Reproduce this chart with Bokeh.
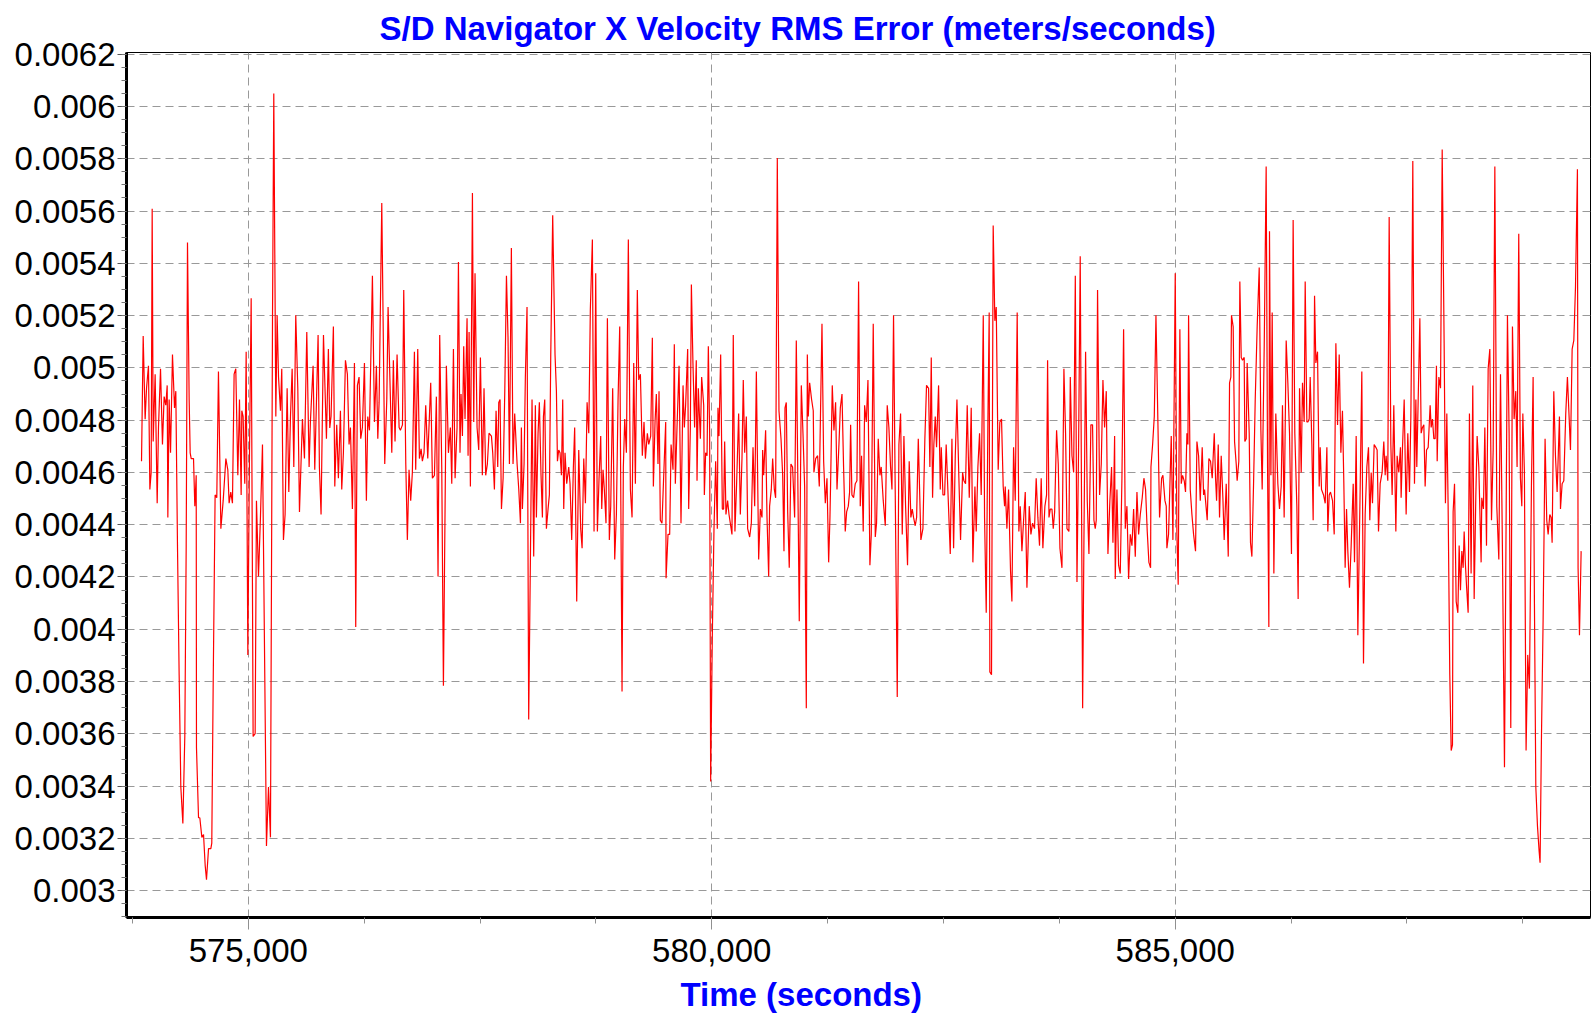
from bokeh.plotting import figure
from bokeh.models import Range1d, FixedTicker, Title
from bokeh.embed import file_html
from bokeh.resources import INLINE

TIME = [
573848,573866,573887,573902,573923,573938,573952,573963,573974,573995,574017,574031,574053,574074,574092,574110,
574125,574132,574146,574161,574182,574204,574218,574236,574254,574272,574294,574315,574330,574344,574362,574373,
574384,574409,574423,574438,574441,574463,574477,574499,574517,574535,574549,574571,574596,574606,574621,574642,
574660,574678,574704,574729,574758,574779,574793,574811,574829,574847,574865,574887,574905,574923,574930,574944,
574962,574977,574995,575013,575031,575052,575074,575088,575110,575131,575153,575196,575218,575239,575261,575275,
575297,575311,575326,575347,575361,575379,575397,575419,575437,575455,575473,575491,575512,575534,575552,575584,
575606,575631,
575656,575670,575699,575717,575753,575767,575785,575811,575843,575864,575879,575893,575918,575933,575954,575972,
575994,576008,576026,576048,576069,576087,576102,576123,576145,576159,576177,576195,576213,576231,576253,576274,
576289,576307,576339,576361,576382,576397,576411,576440,576472,576494,576508,576548,576565,576583,576605,576627,
576641,576663,576677,576699,576716,576734,576752,576770,576792,576806,576828,576846,576864,576878,576896,576914,
576936,576968,576986,577008,577029,577047,577065,577087,577105,577137,577159,577180,577195,577213,577231,577252,
577267,577284,577295,577310,577324,577338,577360,577371,577382,577396,577418,577432,577446,577468,577486,577504,
577525,577543,577561,577579,577597,
577623,577637,577655,577673,577691,577702,577716,577731,577749,577767,577785,577802,577817,577838,577856,577874,
577900,577918,577936,577946,577957,577975,577989,578007,578025,578043,578061,578079,578097,578108,578126,578140,
578158,578173,578184,578198,578216,578234,578248,578263,578284,578309,578324,578335,578349,578363,578378,578392,
578403,578417,578435,578457,578471,578489,578507,578521,578543,578565,578586,578601,578619,578637,578655,578673,
578690,578712,578730,578748,578766,578784,578802,578813,578827,578841,578859,578874,578895,578910,578931,578953,
578971,578989,579007,579032,579046,579061,579079,579100,579122,579140,579158,579176,579197,579212,579230,579251,
579269,579284,579305,579320,579341,579359,579370,579388,579402,579420,579431,579445,579463,579485,579503,579507,
579528,579546,579561,579582,579596,
579607,579625,579647,579668,579690,579704,579718,579740,579751,579769,579780,579797,579815,579833,579841,579855,
579877,579891,579913,579920,579934,579949,579963,579977,579988,580006,580024,580042,580060,580067,580078,580096,
580114,580128,580139,580153,580171,580186,580200,580218,580232,580250,580268,580290,580308,580326,580340,580355,
580373,580387,580409,580427,580445,580463,580481,580506,580524,580542,580549,580560,580581,580596,580614,580624,
580642,580657,580675,580689,580707,580725,580747,580765,580779,580790,580804,580819,580836,580854,580872,580894,
580912,580926,580944,580966,580984,581002,581020,581031,581041,581056,581077,581095,581102,581121,581142,581160,
581189,581207,581225,581243,581261,581275,581282,581300,581318,581336,581351,581372,581387,581405,581422,581440,
581455,581473,581487,581498,581512,581530,581548,581566,581584,
581602,581616,581634,581649,581667,581685,581706,581721,581742,581764,581778,581796,581814,581828,581850,581872,
581893,581911,581929,581944,581961,581979,582001,582019,582037,582055,582073,582091,582112,582130,582148,582163,
582177,582195,582210,582228,582242,582256,582278,582299,582317,582339,582353,582368,582382,582396,582411,582425,
582447,582465,582476,582494,582512,582529,582547,582573,582591,582609,582627,582645,582666,582684,582706,582720,
582738,582756,582778,582799,582817,582839,582853,582871,582889,582907,582929,582943,582961,582979,582993,583000,
583018,583036,583054,583069,583090,583108,583126,583144,583159,583166,583184,583202,583223,583238,583256,583274,
583295,583313,583328,583346,583364,583382,583400,583425,583443,583461,583482,583500,583518,583536,583554,583572,
583594,583612,583623,583638,583652,583670,583684,583699,583720,583738,583756,583778,583799,583817,583832,583853,
583868,583886,583904,583922,583940,583957,583975,584001,584015,584033,584051,584069,584090,584108,584123,584137,
584148,584162,584184,584202,584220,584238,584256,584274,584295,584313,584328,584346,584353,584371,584389,584407,
584425,584443,584461,584479,584497,584515,584533,584551,584569,584587,584605,584623,584644,584662,584680,584698,
584716,584734,584738,584756,584774,584792,584813,584831,584853,584867,584889,584903,584910,584928,584957,584975,
585000,585018,585032,585050,585065,585079,585097,585111,585126,585137,585144,585162,585180,585198,585219,585234,
585252,585270,585291,585306,585316,585327,585345,585363,585381,585399,585421,585435,585446,585464,585478,585496,
585514,585528,585550,585572,
585586,585600,585607,585625,585640,585658,585668,585686,585697,585712,585726,585744,585751,585766,585776,585798,
585812,585827,585845,585863,585884,585906,585924,585938,585960,585981,585996,586010,586017,586032,586046,586064,
586085,586107,586125,586143,586157,586175,586197,586215,586233,586254,586272,586290,586312,586326,586341,586359,
586373,586391,586402,586420,586431,586445,586456,586474,586488,586503,586517,586535,586553,586564,586578,586600,
586618,586636,586646,586661,586675,586697,586715,586733,586751,586769,586787,586804,586819,586833,586848,586862,
586880,586898,586920,586934,586952,586970,586995,587013,587031,587049,587067,587085,587099,587114,587128,587146,
587164,587178,587193,587211,587232,587250,587265,587275,587293,587308,587326,587340,587358,587380,587394,587412,
587430,587437,587452,587470,587491,587509,587527,587542,587552,587563,587581,
587596,587606,587621,587639,587653,587667,587682,587696,587711,587729,587750,587761,587775,587790,587804,587818,
587826,587844,587862,587880,587901,587915,587930,587944,587962,587977,587991,587998,588013,588031,588049,588063,
588077,588092,588106,588117,588131,588142,588160,588174,588192,588210,588225,588243,588257,588275,588300,588307,
588325,588340,588358,588376,588394,588412,588430,588448,588469,588491,588509,588530,588552,588584,588602,588620,
588638,588656,588674,588688,588706,588724,588739,588750,588767,588785,588803,588821,588843,588861,588875,588890,
588908,588926,588936,588951,588969,588990,589008,589023,589041,589055,589066,589084,589102,589120,589145,589156,
589174,589192,589213,589231,589249,589264,589282,589300,589318,589339,589346,589361,589379,
]

RMS_ERROR = [
0.004643,0.005122,0.004804,0.004922,0.005008,0.004535,0.004600,0.005609,0.004718,0.004976,0.004482,0.004772,0.004997,0.004707,0.004890,0.004857,
0.004933,0.004428,0.004879,0.004675,0.005051,0.004847,0.004911,0.004320,0.003826,0.003397,0.003257,0.003590,0.004320,0.005480,0.004879,0.004675,
0.004653,0.004653,0.004471,0.004589,0.003547,0.003279,0.003279,0.003204,0.003215,0.003096,0.003042,0.003161,0.003161,0.003182,0.003783,0.004514,
0.004503,0.004986,0.004385,0.004492,0.004653,0.004610,0.004482,0.004525,0.004482,0.004976,0.004997,0.004589,0.004879,0.004514,0.004836,0.004814,
0.004557,0.005062,0.003902,0.004675,0.005266,0.003590,0.003601,0.004492,0.004202,0.004428,0.004707,0.003171,0.003397,0.003204,0.005180,0.006050,
0.004814,0.005201,0.004965,0.004836,0.004997,0.004342,0.004439,0.004922,0.004525,0.004814,0.004997,0.004621,0.005201,0.004922,0.004449,0.004804,
0.004653,0.005137,
0.004621,0.004793,0.005008,0.004610,0.005126,0.004621,0.004439,0.005126,0.004729,0.005072,0.004770,0.004815,0.005158,0.004546,0.004782,0.004578,
0.004836,0.004535,0.004675,0.005029,0.004976,0.004707,0.004772,0.004460,0.005019,0.004009,0.004933,0.004965,0.004729,0.004772,0.005019,0.004492,
0.004814,0.004761,0.005352,0.004793,0.005008,0.004729,0.004868,0.005631,0.004632,0.004879,0.005233,0.004675,0.005029,0.004718,0.005051,0.004772,
0.004761,0.004782,0.005298,0.004632,0.004342,0.004610,0.004492,0.004600,0.005062,0.004610,0.005072,0.004653,0.004690,0.004643,0.004675,0.004857,
0.004653,0.004943,0.004578,0.004589,0.004890,0.004202,0.005126,0.004621,0.003784,0.005008,0.004675,0.004772,0.004557,0.005072,0.004578,0.004772,
0.005405,0.004675,0.004900,0.004739,0.005083,0.004804,0.005190,0.004664,0.005137,0.004546,0.005669,0.004793,0.005362,0.004772,0.004686,0.005040,
0.004589,0.004922,0.004589,0.004632,0.004750,
0.004739,0.004675,0.004535,0.004836,0.004621,0.004868,0.004879,0.004460,0.004578,0.004911,0.005352,0.005115,0.004632,0.005459,0.004632,0.004825,
0.004632,0.004535,0.004406,0.004772,0.004460,0.004632,0.004965,0.005233,0.003655,0.004256,0.004879,0.004278,0.004857,0.004428,0.004750,0.004868,
0.004589,0.004428,0.004814,0.004879,0.004385,0.004460,0.004514,0.005051,0.005584,0.005051,0.004911,0.004643,0.004686,0.004675,0.004589,0.004879,
0.004460,0.004675,0.004557,0.004621,0.004557,0.004342,0.004621,0.004772,0.004106,0.004686,0.004385,0.004310,0.004653,0.004482,0.004868,0.004750,
0.005223,0.005491,0.004374,0.005362,0.004374,0.004578,0.004739,0.004460,0.004610,0.004535,0.004406,0.005190,0.004342,0.004471,0.004922,0.004267,
0.004439,0.004879,0.005158,0.003762,0.004621,0.004804,0.004675,0.005491,0.004535,0.004428,0.005019,0.004557,0.005298,0.004954,0.004976,0.004664,
0.004793,0.004653,0.004750,0.004707,0.004739,0.005115,0.004546,0.004793,0.004900,0.004632,0.004911,0.004417,0.004406,0.004621,0.004793,0.004195,
0.004363,0.004363,0.004707,0.004610,0.005090,
0.004557,0.004772,0.005008,0.004406,0.004933,0.004772,0.004857,0.005072,0.004460,0.004772,0.005319,0.005019,0.004772,0.005029,0.004568,0.004922,
0.004729,0.004965,0.004857,0.004514,0.004675,0.004664,0.005083,0.004750,0.003418,0.003977,0.004385,0.004643,0.004385,0.004847,0.004739,0.005051,
0.004460,0.004460,0.004718,0.004439,0.004492,0.004439,0.004406,0.004363,0.005126,0.004374,0.004557,0.004825,0.004439,0.004653,0.004954,0.004675,
0.004814,0.004385,0.004353,0.004406,0.004696,0.004471,0.004986,0.004267,0.004460,0.004428,0.004686,0.004589,0.004761,0.004428,0.004202,0.004471,
0.004535,0.004653,0.004535,0.004503,0.005803,0.004836,0.004729,0.004589,0.004299,0.004847,0.004868,0.004449,0.004235,0.004632,0.004621,0.004428,
0.005105,0.004653,0.004031,0.004933,0.004750,0.004546,0.003698,0.005051,0.004814,0.004943,0.004879,0.004836,0.004600,0.004653,0.004664,0.004546,
0.005169,0.004643,0.004482,0.004578,0.004256,0.004428,0.004557,0.004933,0.004761,0.004868,0.004535,0.004707,0.004847,0.004900,0.004621,0.004374,
0.004449,0.004471,0.004525,0.004782,0.004514,0.004503,0.004557,0.004568,0.005330,
0.004471,0.004664,0.004374,0.004857,0.004793,0.004954,0.004245,0.004363,0.005169,0.004353,0.004406,0.004729,0.004589,0.004621,0.004492,0.004396,
0.004857,0.004772,0.004621,0.004535,0.005201,0.004535,0.003741,0.004707,0.004825,0.004363,0.004739,0.004471,0.004245,0.004643,0.004428,0.004460,
0.004428,0.004396,0.004428,0.004729,0.004535,0.004342,0.004385,0.004729,0.004933,0.004922,0.004621,0.005040,0.004503,0.004707,0.004814,0.004696,
0.004933,0.004535,0.004696,0.004514,0.004514,0.004707,0.004535,0.004288,0.004729,0.004310,0.004664,0.004879,0.004578,0.004342,0.004600,0.004568,
0.004557,0.004857,0.004503,0.004847,0.004256,0.004546,0.004374,0.004621,0.004750,0.004514,0.005201,0.004428,0.004063,0.004793,0.005212,0.003837,
0.003826,0.005545,0.005180,0.005233,0.004610,0.004793,0.004804,0.004546,0.004471,0.004546,0.004385,0.004535,0.004224,0.004106,0.004696,0.004492,
0.005212,0.004374,0.004471,0.004299,0.004417,0.004525,0.004159,0.004471,0.004363,0.004406,0.004385,0.004578,0.004428,0.004320,0.004578,0.004310,
0.004471,0.004514,0.005029,0.004428,0.004460,0.004460,0.004385,0.004449,0.004761,0.004632,0.004310,0.004235,0.004997,0.004750,0.004385,0.004374,
0.004965,0.004664,0.004600,0.005352,0.004181,0.004686,0.005427,0.003698,0.004342,0.005062,0.004492,0.004288,0.004782,0.004782,0.004417,0.004385,
0.004417,0.005298,0.004514,0.004632,0.004954,0.004772,0.004911,0.004288,0.004492,0.004621,0.004331,0.004739,0.004192,0.004535,0.004245,0.004213,
0.004578,0.005148,0.004385,0.004471,0.004192,0.004363,0.004320,0.004460,0.004278,0.004525,0.004363,0.004439,0.004503,0.004578,0.004535,0.004374,
0.004256,0.004235,0.004621,0.004707,0.004814,0.005201,0.004793,0.004428,0.004578,0.004589,0.004492,0.004471,0.004310,0.004363,0.004739,0.004342,
0.005362,0.004363,0.004170,0.005148,0.004557,0.004589,0.004568,0.004525,0.004750,0.004707,0.005201,0.004535,0.004439,0.004363,0.004299,0.004718,
0.004664,0.004492,0.004696,0.004514,0.004535,0.004492,0.004417,0.004653,0.004643,0.004578,0.004750,0.004578,0.004492,0.004707,0.004428,0.004664,
0.004503,0.004342,0.004557,0.004278,
0.004943,0.004965,0.005201,0.005158,0.004718,0.004632,0.004568,0.004643,0.005330,0.005040,0.005029,0.005040,0.004718,0.004729,0.005019,0.004750,
0.004331,0.004278,0.004557,0.004879,0.005158,0.005384,0.004761,0.004535,0.005083,0.005770,0.004621,0.004009,0.005523,0.004589,0.005212,0.004213,
0.004825,0.004557,0.004460,0.004546,0.004857,0.004428,0.005105,0.004943,0.004750,0.004288,0.005566,0.004750,0.004471,0.004116,0.004922,0.004600,
0.004943,0.004793,0.005330,0.004793,0.004793,0.004804,0.004965,0.004707,0.004417,0.005276,0.005019,0.005062,0.004546,0.004696,0.004535,0.004514,
0.004482,0.004696,0.004374,0.004514,0.004525,0.004492,0.004363,0.005094,0.004782,0.005051,0.004675,0.004836,0.004557,0.004235,0.004460,0.004299,
0.004159,0.004320,0.004557,0.004256,0.004739,0.003977,0.004535,0.004986,0.003869,0.004439,0.004621,0.004696,0.004417,0.004600,0.004482,0.004707,
0.004696,0.004686,0.004374,0.004557,0.004600,0.004718,0.004589,0.004664,0.004568,0.005577,0.004707,0.004514,0.004857,0.004374,0.004664,0.004600,
0.004696,0.004503,0.004696,0.004879,0.004439,0.004750,0.004525,0.004814,0.005180,0.005791,0.004557,
0.004879,0.004621,0.004879,0.005190,0.004750,0.004772,0.004782,0.004546,0.004686,0.004696,0.004857,0.004772,0.004804,0.004729,0.004729,0.005008,
0.004643,0.004965,0.004922,0.005835,0.005094,0.004482,0.004825,0.004471,0.003826,0.003536,0.003558,0.004449,0.004557,0.004106,0.004063,0.004320,
0.004149,0.004299,0.004235,0.004374,0.004245,0.004170,0.004063,0.004825,0.004213,0.004933,0.004116,0.004514,0.004739,0.004621,0.004256,0.004503,
0.004460,0.004772,0.004320,0.004997,0.005072,0.004417,0.004686,0.005770,0.004471,0.004267,0.004976,0.004299,0.003472,0.005201,0.004750,0.003622,
0.005158,0.004804,0.004911,0.004621,0.005513,0.004578,0.004471,0.004825,0.004600,0.003536,0.003902,0.003773,0.004557,0.004965,0.004106,0.003397,
0.003247,0.003150,0.003107,0.003590,0.004041,0.004729,0.004417,0.004363,0.004439,0.004428,0.004331,0.004911,0.004664,0.004525,0.004814,0.004460,
0.004557,0.004568,0.004825,0.004965,0.004814,0.004686,0.005072,0.005105,0.005309,0.005760,0.004235,0.003977,0.004299,
]

X_TICKS = [575000, 580000, 585000]
X_TICK_LABELS = ["575,000", "580,000", "585,000"]
Y_TICKS = [0.003, 0.0032, 0.0034, 0.0036, 0.0038, 0.004, 0.0042, 0.0044, 0.0046, 0.0048,
           0.005, 0.0052, 0.0054, 0.0056, 0.0058, 0.006, 0.0062]
Y_TICK_LABELS = ["0.003", "0.0032", "0.0034", "0.0036", "0.0038", "0.004", "0.0042", "0.0044", "0.0046",
                 "0.0048", "0.005", "0.0052", "0.0054", "0.0056", "0.0058", "0.006", "0.0062"]
X_MINOR = [573750, 575000, 576250, 577500, 578750, 580000, 581250, 582500, 583750, 585000, 586250, 587500, 588750]
Y_MINOR = [0.0029 + 0.00005 * i for i in range(67)]

FONT = "Liberation Sans"

p = figure(width=1593, height=1023, output_backend="svg", toolbar_location=None,
           x_range=Range1d(573686, 589480), y_range=Range1d(0.0028974, 0.0062065),
           min_border_left=126, min_border_right=3, min_border_top=52, min_border_bottom=106,
           background_fill_color="white", border_fill_color="white")

p.title.text = "S/D Navigator X Velocity RMS Error (meters/seconds)"
p.title.align = "left"
p.title.vertical_align = "top"
p.title.offset = 253
p.title.text_font = FONT
p.title.text_font_size = "33px"
p.title.text_font_style = "bold"
p.title.text_color = "#0000ff"
p.title.standoff = 7

xlabel = Title(text="Time (seconds)", align="left", offset=554, text_font=FONT,
               text_font_size="33px", text_font_style="bold", text_color="#0000ff", standoff=18)
p.add_layout(xlabel, "below")

p.line(TIME, RMS_ERROR, line_color="#ff0000", line_width=1.2)

p.outline_line_color = "black"
p.outline_line_width = 1

p.xaxis.ticker = FixedTicker(ticks=X_TICKS, minor_ticks=X_MINOR)
p.xaxis.major_label_overrides = dict(zip(X_TICKS, X_TICK_LABELS))
p.yaxis.ticker = FixedTicker(ticks=Y_TICKS, minor_ticks=Y_MINOR)
p.yaxis.major_label_overrides = dict(zip(Y_TICKS, Y_TICK_LABELS))

for ax in (p.xaxis, p.yaxis):
    ax.axis_line_color = "black"
    ax.axis_line_width = 3
    ax.major_label_text_font = FONT
    ax.major_label_text_font_size = "33px"
    ax.major_label_text_color = "black"
    ax.major_tick_in = 0
    ax.minor_tick_in = 0

p.yaxis.major_tick_out = 9
p.yaxis.minor_tick_out = 5
p.yaxis.major_tick_line_color = "#555555"
p.yaxis.minor_tick_line_color = "#777777"
p.yaxis.major_label_standoff = 2

p.xaxis.major_tick_out = 12
p.xaxis.minor_tick_out = 6
p.xaxis.major_tick_line_color = "#909090"
p.xaxis.minor_tick_line_color = "#909090"
p.xaxis.major_label_standoff = 9

p.xgrid.ticker = FixedTicker(ticks=X_TICKS)
p.ygrid.ticker = FixedTicker(ticks=Y_TICKS)
for g in (p.xgrid, p.ygrid):
    g.grid_line_color = "#999999"
    g.grid_line_dash = "8 5"
    g.grid_line_width = 1

open("out.html", "w").write(file_html(p, INLINE))
